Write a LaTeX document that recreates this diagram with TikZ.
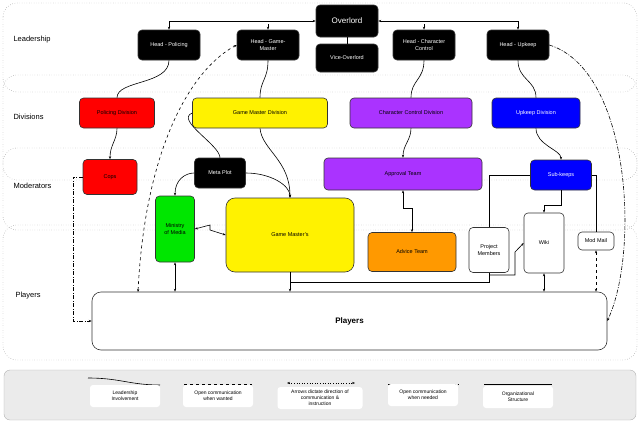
\documentclass[tikz,border=0pt]{standalone}
\usepackage{fontspec}
\setmainfont{Liberation Sans}
\usetikzlibrary{arrows.meta}
\begin{document}
\begin{tikzpicture}[x=1pt,y=-1pt,
 box/.style={draw=black!80,rounded corners=4pt,align=center,font=\fontsize{5.5}{6.5}\selectfont,inner sep=1pt,line width=0.6pt},
 blk/.style={box,fill=black,text=white},
 lane/.style={draw=black!60,dotted,rounded corners=14pt},
 lab/.style={font=\fontsize{7.5}{9}\selectfont,anchor=west},
 con/.style={line width=0.6pt},
 arr/.style={con,-{Stealth[length=3pt]}},
 barr/.style={con,{Stealth[length=3pt]}-{Stealth[length=3pt]}},
 dsh/.style={con,dashed},
 dd/.style={con,dash pattern=on 4pt off 1.5pt on 1pt off 1.5pt}]
\useasboundingbox (0,0) rectangle (640,423);
\draw[lane] (3,3) rectangle (637,92);
\draw[lane] (3,75) rectangle (637,180);
\draw[lane] (3,148) rectangle (637,230);
\draw[lane] (3,225) rectangle (637,360);
\node[lab] at (10,40) {Leadership};
\node[lab] at (10,117) {Divisions};
\node[lab] at (10,186) {Moderators};
\node[lab] at (12,296) {Players};
% legend
\draw[draw=black!30,fill=black!8,rounded corners=6pt] (4,370) rectangle (636,420);
% nodes
\node[blk,minimum width=62pt,minimum height=32pt,font=\fontsize{8}{9}\selectfont] (ov) at (347,21) {Overlord};
\node[blk,minimum width=62pt,minimum height=28pt] (vo) at (347,58) {Vice-Overlord};
\node[blk,minimum width=62pt,minimum height=30pt] (hp) at (169,45) {Head - Policing};
\node[blk,minimum width=62pt,minimum height=30pt] (hg) at (268,45) {Head - Game-\\Master};
\node[blk,minimum width=62pt,minimum height=30pt] (hc) at (424,45) {Head - Character\\Control};
\node[blk,minimum width=62pt,minimum height=30pt] (hu) at (518,45) {Head - Upkeep};
\node[box,fill=red,minimum width=75pt,minimum height=30pt] (pd) at (117,113) {Policing Division};
\node[box,fill=yellow,minimum width=135pt,minimum height=30pt] (gd) at (260,113) {Game Master Division};
\node[box,fill={rgb,255:red,170;green,51;blue,255},minimum width=122pt,minimum height=30pt] (cd) at (411,113) {Character Control Division};
\node[box,fill=blue,text=white,minimum width=88pt,minimum height=30pt] (ud) at (536,113) {Upkeep Division};
\node[box,fill=red,minimum width=54pt,minimum height=35pt] (cops) at (110,177) {Cops};
\node[blk,minimum width=51pt,minimum height=30pt] (mp) at (220,173) {Meta Plot};
\node[box,fill={rgb,255:red,170;green,51;blue,255},minimum width=158pt,minimum height=32pt] (at) at (403,174) {Approval Team};
\node[box,fill=blue,text=white,minimum width=61pt,minimum height=30pt] (sk) at (561,175) {Sub-keeps};
\node[box,fill={rgb,255:red,0;green,230;blue,0},minimum width=39pt,minimum height=66pt,text width=36pt] (mm) at (175,229) {Ministry\\of Media};
\node[box,fill=yellow,minimum width=128pt,minimum height=74pt,rounded corners=9pt] (gm) at (290,235) {Game Master's};
\node[box,fill={rgb,255:red,255;green,153;blue,0},minimum width=88pt,minimum height=39pt] (adv) at (412,252) {Advice Team};
\node[box,fill=white,minimum width=40pt,minimum height=45pt] (pm) at (489,250) {Project\\Members};
\node[box,fill=white,minimum width=40pt,minimum height=60pt] (wk) at (544,243) {Wiki};
\node[box,fill=white,minimum width=36pt,minimum height=18pt] (ml) at (596,241) {Mod Mail};
\node[box,fill=white,minimum width=515pt,minimum height=58pt,rounded corners=9pt,font=\bfseries\fontsize{8}{9}\selectfont] (pl) at (349.5,321) {Players};
\coordinate (plgm) at (138,292);
% leadership structure
\draw[barr] (hp.north) |- (ov.west);
\draw[arr] (268,24) -- (hg.north);
\draw[barr] (hu.north) |- (ov.east);
\draw[arr] (424,24) -- (hc.north);
\draw[con] (ov) -- (vo);
% leadership involvement curves
\draw[con] (hp.south) .. controls (169,85) and (117,80) .. (pd.north);
\draw[con] (hg.south) .. controls (268,80) and (260,80) .. (gd.north);
\draw[con] (hc.south) .. controls (424,80) and (411,80) .. (cd.north);
\draw[con] (hu.south) .. controls (518,80) and (536,80) .. (ud.north);
% division connections
\draw[arr] (pd.south) .. controls (117,140) and (110,145) .. (cops.north);
\draw[arr] (gd.south) .. controls (262,150) and (290,160) .. (gm.north);
\draw[con] (gd.west) .. controls (175,120) and (220,145) .. (mp.north);
\draw[arr] (mp.west) .. controls (185,173) and (175,180) .. (mm.north);
\draw[arr] (mp.east) .. controls (270,173) and (290,185) .. (gm.north);
\draw[arr] (cd.south) .. controls (411,140) and (403,145) .. (at.north);
\draw[arr] (ud.south) .. controls (536,145) and (561,150) .. (sk.north);
\draw[barr] (at.south) -- (403,208) -- (412,208) -- (adv.north);
\draw[con] (sk.west) -| (pm.north);
\draw[arr] (sk.south) -- (561,205) -- (544,205) -- (wk.north);
\draw[con] (sk.east) -| (ml.north);
\draw[barr] (mm.east) -- (210,225) -- (210,230) -- (gm.west);
\draw[barr] (mm.south) -- (mm.south |- pl.north);
\draw[arr] (gm.south) -- (gm.south |- pl.north);
\draw[con] (290,282) -- (489,282) -- (pm.south);
\draw[arr] (489,275) -- (515,275) -- (515,252) -- (wk.west);
\draw[barr] (wk.south) -- (wk.south |- pl.north);
\draw[dsh,{Stealth[length=3pt]}-{Stealth[length=3pt]}] (ml.south) -- (ml.south |- pl.north);
\draw[dd,-{Stealth[length=3pt]}] (cops.west) -- (73,177) -- (73,321) -- (pl.west);
\draw[dsh,{Stealth[length=3pt]}-{Stealth[length=3pt]}] (plgm) .. controls (145,150) and (190,70) .. (hg.west);
\draw[dd,-{Stealth[length=3pt]}] (hu.east) .. controls (630,70) and (640,250) .. (pl.east);
% legend items
\tikzset{lbox/.style={fill=white,rounded corners=3pt,align=center,font=\fontsize{5}{6}\selectfont,minimum width=70pt,minimum height=22pt,inner sep=1pt}}
\draw[con] (88,378) .. controls (120,378) and (130,385) .. (160,385);
\node[lbox] (l1) at (125,396) {Leadership\\Involvement};
\draw[con,dashed] (184,384) -- (252,384);
\node[lbox] (l2) at (218,396) {Open communication\\when wanted};
\draw[con,dotted,{Stealth[length=3pt]}-{Stealth[length=3pt]}] (287,383) -- (355,383);
\node[lbox,minimum width=85pt] (l3) at (320,398) {Arrows dictate direction of\\communication \&\\instruction};
\draw[dd] (388,384) -- (458,384);
\node[lbox] (l4) at (423,395) {Open communication\\when needed};
\draw[con] (484,384) -- (552,384);
\node[lbox] (l5) at (518,397) {Organizational\\Structure};
\end{tikzpicture}
\end{document}
